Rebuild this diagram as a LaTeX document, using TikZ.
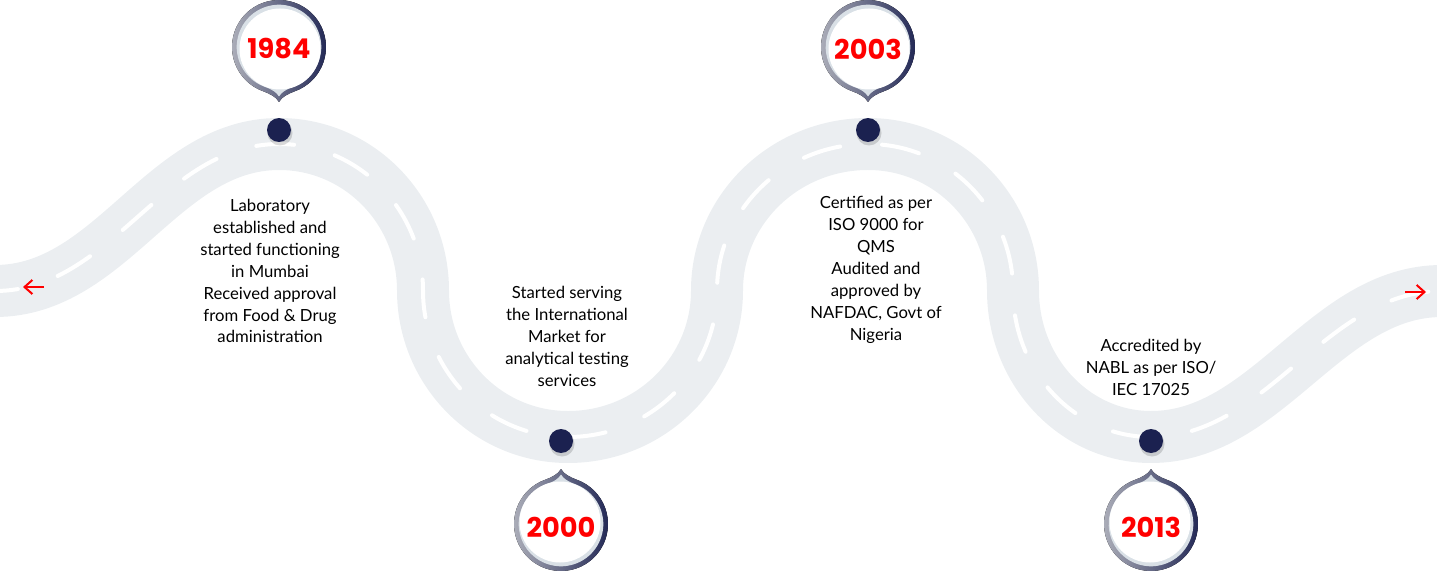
\documentclass[tikz,border=0pt]{standalone}
\usepackage{fontspec}
\setmainfont{Lato}
\newfontfamily\yearfont{Poppins}
\usetikzlibrary{arrows.meta}

\definecolor{navy}{HTML}{1B2150}
\definecolor{roadgray}{HTML}{EBEEF1}
\definecolor{ringgray}{HTML}{B3B5BE}
\definecolor{innergray}{HTML}{D9E0E6}
\definecolor{yearred}{HTML}{FF0000}

\begin{document}
\begin{tikzpicture}[x=0.02cm, y=-0.02cm,
  road/.style={draw=roadgray, line width=1.04cm},
  lane/.style={draw=white, line width=0.08cm, line cap=round, dash pattern=on 0.76cm off 0.84cm},
  dot/.style={circle, fill=navy, minimum size=0.48cm, inner sep=0pt},
  year/.style={font=\yearfont\fontsize{15.5}{18}\selectfont\bfseries, text=yearred},
  desc/.style={font=\fontsize{9.5}{12.5}\selectfont, align=center, inner sep=0pt},
  exit/.style={draw=yearred, line width=0.04cm, -{Straight Barb[length=4.5pt, width=8pt]}},
  pin/.pic={
    \fill[left color=ringgray, right color=navy] (70:47) arc[start angle=70, end angle=-250, radius=47]
      .. controls (-9.3,46.6) and (-2.5,50) .. (0,55) .. controls (2.5,50) and (9.3,46.6) .. (70:47) -- cycle;
    \fill[innergray, scale=0.9] (70:47) arc[start angle=70, end angle=-250, radius=47]
      .. controls (-9.3,46.6) and (-2.5,50) .. (0,55) .. controls (2.5,50) and (9.3,46.6) .. (70:47) -- cycle;
    \fill[white] (1,2) circle[radius=40.5];
  }
]
\useasboundingbox (0,0) rectangle (1437,581);

% Draw road
\draw[road, postaction={lane}] (-20,291) -- (-5,291) .. controls (112,291) and (162,144) .. (279,144)
  arc[start angle=270, end angle=360, x radius=144, y radius=146.5]
  arc[start angle=180, end angle=90, x radius=145, y radius=146.5]
  arc[start angle=90, end angle=0, x radius=149, y radius=146.5]
  arc[start angle=180, end angle=270, x radius=151, y radius=146.5]
  arc[start angle=270, end angle=360, x radius=145, y radius=146.5]
  arc[start angle=180, end angle=90, x radius=138, y radius=146.5]
  .. controls (1268,437) and (1325,291) .. (1442,291) -- (1460,291);

% Direction arrows
\coordinate (leftTail) at (44,287);
\coordinate (leftHead) at (23,287);
\coordinate (rightTail) at (1405,292);
\coordinate (rightHead) at (1426,292);
\draw[exit] (leftTail) -- (leftHead);
\draw[exit] (rightTail) -- (rightHead);

% Milestone dots
\fill[black, opacity=0.15] (280,133) circle[radius=12.5];
\fill[black, opacity=0.15] (869,133) circle[radius=12.5];
\fill[black, opacity=0.15] (562,444) circle[radius=12.5];
\fill[black, opacity=0.15] (1152,444) circle[radius=12.5];
\node[dot] (d1984) at (279,130) {};
\node[dot] (d2003) at (868,130) {};
\node[dot] (d2000) at (561,441) {};
\node[dot] (d2013) at (1151,441) {};

% Pins with years
\pic at (279,47) {pin};
\pic at (868,47) {pin};
\pic[rotate=180] at (561,524) {pin};
\pic[rotate=180] at (1151,524) {pin};
\node[year] (y1984) at (279,49) {1984};
\node[year] (y2003) at (868,49) {2003};
\node[year] (y2000) at (561,527) {2000};
\node[year] (y2013) at (1151,527) {2013};

% Milestone texts
\node[desc] (t1984) at (270,271) {Laboratory\\established and\\started functioning\\in Mumbai\\Received approval\\from Food \& Drug\\administration};
\node[desc] (t2000) at (567,336) {Started serving\\the International\\Market for\\analytical testing\\services};
\node[desc] (t2003) at (876,270) {Certified as per\\ISO 9000 for\\QMS\\Audited and\\approved by\\NAFDAC, Govt of\\Nigeria};
\node[desc] (t2013) at (1151,367) {Accredited by\\NABL as per ISO/\\IEC 17025};

\end{tikzpicture}
\end{document}
